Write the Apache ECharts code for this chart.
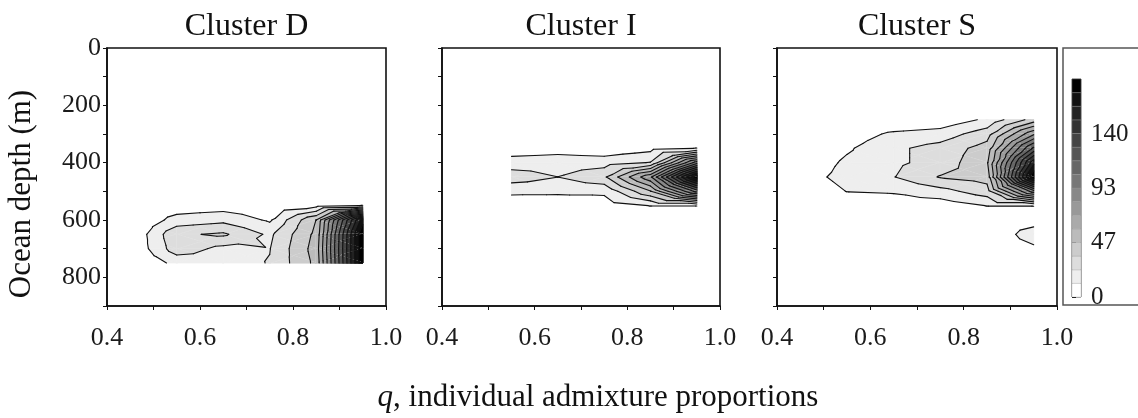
<!DOCTYPE html>
<html>
<head>
<meta charset="utf-8">
<script src="https://cdn.jsdelivr.net/npm/echarts@6/dist/echarts.min.js"></script>
<style>html,body{margin:0;padding:0;background:#fff}#c{width:1138px;height:418px}</style>
</head>
<body>
<div id="c"></div>
<script>
// ---- data ----
const clusterTitles = ['Cluster D', 'Cluster I', 'Cluster S'];
const qValues = [0.45, 0.55, 0.65, 0.75, 0.85, 0.95];
const depthValues = [250, 300, 350, 400, 450, 500, 550, 600, 650, 700, 750];
// rows = depth, columns = q ; null = no data
const clusterD = [
  [0, 0, 0, 0, 0, 0],
  [0, 0, 0, 0, 0, 0],
  [0, 0, 0, 0, 0, 0],
  [0, 0, 0, 0, 0, 0],
  [0, 0, 0, 0, 0, 0],
  [0, 0, 0, 0, 0, 0],
  [0, 5, 6, 3, 8, 12],
  [0, 16, 20, 10, 47, 170],
  [0, 33, 37, 21, 50, 187],
  [0, 30, 20, 23, 52, 187],
  [0, 15, 18, 24, 50, 187]
];
const clusterI = [
  [null, 0, 0, 0, 0, 0],
  [null, 0, 0, 0, 0, 0],
  [null, 5, 7, 4, 8, 12],
  [null, 17, 18, 18, 24, 100],
  [null, 30, 23.5, 33, 80, 187],
  [null, 14, 14, 14, 46, 110],
  [null, 5, 4, 6, 12, 12],
  [null, 0, 0, 0, 0, 0],
  [null, 0, 0, 0, 0, 0],
  [null, 0, 0, 0, 0, 0],
  [null, 0, 0, 0, 0, 0]
];
const clusterS = [
  [0, 0, 0, 3, 14, 40],
  [0, 5, 14, 17, 30, 80],
  [0, 10, 21, 28, 40, 120],
  [2, 14, 21, 28, 45, 160],
  [6, 16, 23, 36, 40, 187],
  [2, 12, 13, 19, 30, 100],
  [0, 3, 5, 5, 12, 12],
  [0, 0, 0, 0, 2, 5],
  [0, 0, 0, 0, 0, 19],
  [0, 0, 0, 0, 0, 9],
  [0, 0, 0, 0, 0, 0]
];
const levelStep = 11.7;
const levelCount = 16;
const colorbarTicks = [0, 47, 93, 140];
const xAxisRange = [0.4, 1.0];
const depthRange = [0, 900];

// ---- layout ----
const grids = [
  {left: 107, top: 48, width: 279, height: 258},
  {left: 442, top: 48, width: 278, height: 258},
  {left: 777, top: 48, width: 280, height: 258}
];
const SERIF = 'Liberation Serif';
const levels = [];
for (let k = 0; k <= levelCount; k++) levels.push(k * levelStep);
const bandColors = [];
for (let k = 0; k < levelCount; k++) {
  const g = Math.round(255 * (1 - k / (levelCount - 1)));
  bandColors.push('rgb(' + g + ',' + g + ',' + g + ')');
}

function cellsOf(values) {
  const out = [];
  for (let i = 0; i < depthValues.length - 1; i++) {
    for (let j = 0; j < qValues.length - 1; j++) {
      const a = values[i][j], b = values[i][j + 1], c = values[i + 1][j], d = values[i + 1][j + 1];
      if (a == null || b == null || c == null || d == null) continue;
      out.push([qValues[j], depthValues[i], qValues[j + 1], depthValues[i + 1], a, b, c, d]);
    }
  }
  return out;
}
function trianglesOf(api) {
  const q0 = api.value(0), d0 = api.value(1), q1 = api.value(2), d1 = api.value(3);
  const v00 = api.value(4), v10 = api.value(5), v01 = api.value(6), v11 = api.value(7);
  const C = [(q0 + q1) / 2, (d0 + d1) / 2, (v00 + v10 + v01 + v11) / 4];
  const P = [[q0, d0, v00], [q1, d0, v10], [q1, d1, v11], [q0, d1, v01]];
  return [[P[0], P[1], C], [P[1], P[2], C], [P[2], P[3], C], [P[3], P[0], C]];
}
function clipAbove(poly, L) {
  const out = [];
  for (let i = 0; i < poly.length; i++) {
    const a = poly[i], b = poly[(i + 1) % poly.length];
    const ina = a[2] >= L, inb = b[2] >= L;
    if (ina) out.push(a);
    if (ina !== inb) {
      const t = (L - a[2]) / (b[2] - a[2]);
      out.push([a[0] + t * (b[0] - a[0]), a[1] + t * (b[1] - a[1]), L]);
    }
  }
  return out;
}
function renderFill(params, api) {
  const children = [];
  trianglesOf(api).forEach(function (tri) {
    for (let k = 1; k < levelCount; k++) {
      const poly = clipAbove(tri, levels[k]);
      if (poly.length < 3) break;
      children.push({
        type: 'polygon',
        shape: {points: poly.map(p => api.coord([p[0], p[1]]))},
        style: {fill: bandColors[k], stroke: bandColors[k], lineWidth: 0.7}
      });
    }
  });
  return {type: 'group', children: children};
}
function renderLines(params, api) {
  const children = [];
  trianglesOf(api).forEach(function (tri) {
    for (let k = 1; k < levelCount; k++) {
      const L = levels[k];
      const pts = [];
      for (let i = 0; i < 3; i++) {
        const a = tri[i], b = tri[(i + 1) % 3];
        if ((a[2] >= L) !== (b[2] >= L)) {
          const t = (L - a[2]) / (b[2] - a[2]);
          pts.push(api.coord([a[0] + t * (b[0] - a[0]), a[1] + t * (b[1] - a[1])]));
        }
      }
      if (pts.length === 2) {
        children.push({type: 'line', shape: {x1: pts[0][0], y1: pts[0][1], x2: pts[1][0], y2: pts[1][1]},
          style: {stroke: '#111', lineWidth: 1.1, lineCap: 'round'}});
      }
    }
  });
  return {type: 'group', children: children};
}

const clusters = [clusterD, clusterI, clusterS];
const option = {
  animation: false,
  backgroundColor: '#fff',
  grid: grids.map(g => Object.assign({show: true, borderColor: '#111', borderWidth: 1.6, backgroundColor: 'transparent', containLabel: false, outerBoundsMode: 'none'}, g))
    .concat([{left: 1072, top: 79, width: 9, height: 218, show: true, borderColor: '#333', borderWidth: 0.8, outerBoundsMode: 'none'}]),
  xAxis: grids.map((g, i) => ({
    type: 'value', gridIndex: i, min: xAxisRange[0], max: xAxisRange[1], interval: 0.1,
    axisLine: {show: true, onZero: false, lineStyle: {color: '#111', width: 1.6}},
    axisTick: {show: true, length: 4, lineStyle: {color: '#111', width: 1}},
    axisLabel: {interval: 0, margin: 19, fontSize: 26, fontFamily: SERIF, color: '#1b1b1b',
      formatter: v => (Math.round(v * 10) % 2 === 0 ? (Math.round(v * 10) / 10).toFixed(1) : '')},
    splitLine: {show: false}
  })).concat([{type: 'value', gridIndex: 3, min: 0, max: 1, show: false}]),
  yAxis: grids.map((g, i) => ({
    type: 'value', gridIndex: i, inverse: true, min: depthRange[0], max: depthRange[1], interval: 100,
    axisLine: {show: true, onZero: false, lineStyle: {color: '#111', width: 1.6}},
    axisTick: {show: true, length: 4, lineStyle: {color: '#111', width: 1}},
    axisLabel: {show: i === 0, interval: 0, margin: 6, fontSize: 26, fontFamily: SERIF, color: '#1b1b1b',
      formatter: v => (v % 200 === 0 && v < depthRange[1] ? String(v) : '')},
    splitLine: {show: false}
  })).concat([{
    type: 'value', gridIndex: 3, min: 0, max: levels[levelCount], position: 'right',
    axisLine: {show: false},
    axisTick: {show: true, length: 4, customValues: colorbarTicks, lineStyle: {color: '#111'}},
    axisLabel: {customValues: colorbarTicks, margin: 10, fontSize: 25, fontFamily: SERIF, color: '#1b1b1b'},
    splitLine: {show: false}
  }]),
  graphic: [
    ...grids.map((g, i) => ({type: 'text', x: g.left + g.width / 2, y: 27,
      style: {text: clusterTitles[i], font: '32px "Liberation Serif"', fill: '#111', textAlign: 'center', textVerticalAlign: 'middle'}})),
    {type: 'text', x: 22, y: 194, rotation: Math.PI / 2,
      style: {text: 'Ocean depth (m)', font: '31px "Liberation Serif"', fill: '#111', textAlign: 'center', textVerticalAlign: 'middle'}},
    {type: 'text', x: 598, y: 398,
      style: {rich: {q: {fontStyle: 'italic', fontFamily: SERIF, fontSize: 31, fill: '#111'}, t: {fontFamily: SERIF, fontSize: 31, fill: '#111'}},
        text: '{q|q}{t|, individual admixture proportions}', textAlign: 'center', textVerticalAlign: 'middle'}},
    {type: 'rect', shape: {x: 1063, y: 48, width: 90, height: 257}, style: {fill: 'none', stroke: '#555', lineWidth: 1.5}}
  ],
  series: []
};
clusters.forEach(function (vals, i) {
  const data = cellsOf(vals);
  option.series.push({type: 'custom', silent: true, xAxisIndex: i, yAxisIndex: i, renderItem: renderFill,
    encode: {x: [0, 2], y: [1, 3]}, data: data, z: 2, clip: true});
  option.series.push({type: 'custom', silent: true, xAxisIndex: i, yAxisIndex: i, renderItem: renderLines,
    encode: {x: [0, 2], y: [1, 3]}, data: data, z: 3, clip: true});
});
const bands = [];
for (let k = 0; k < levelCount; k++) bands.push([levels[k], levels[k + 1], k]);
option.series.push({type: 'custom', silent: true, xAxisIndex: 3, yAxisIndex: 3,
  encode: {y: [0, 1]}, data: bands,
  renderItem: function (params, api) {
    const p0 = api.coord([0, api.value(1)]), p1 = api.coord([1, api.value(0)]);
    return {type: 'rect', shape: {x: p0[0], y: p0[1], width: p1[0] - p0[0], height: p1[1] - p0[1]},
      style: {fill: bandColors[api.value(2)], stroke: '#999', lineWidth: 0.3}};
  }});
echarts.init(document.getElementById('c'), null, {renderer: 'canvas'}).setOption(option);
</script>
</body>
</html>
